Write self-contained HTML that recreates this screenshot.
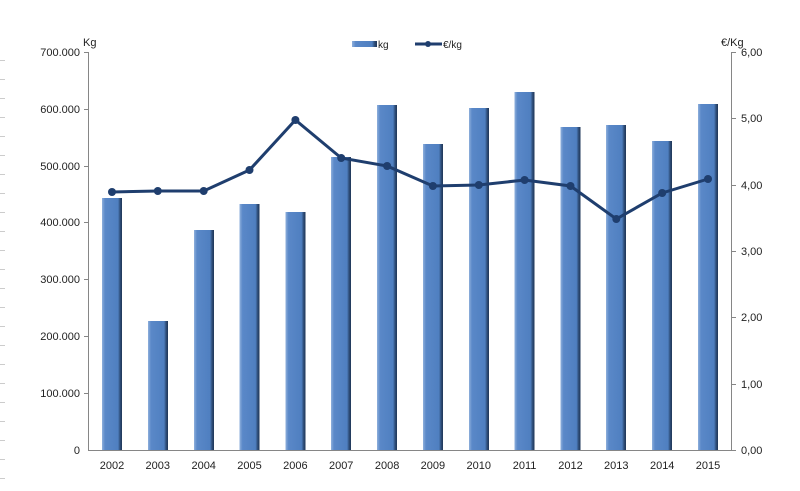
<!DOCTYPE html>
<html><head><meta charset="utf-8"><style>
body{margin:0;background:#fff;}
svg{display:block;font-family:"Liberation Sans",Arial,sans-serif;}
</style></head><body>
<svg width="800" height="491" viewBox="0 0 800 491">
<defs>
<linearGradient id="g" x1="0" x2="1" y1="0" y2="0">
<stop offset="0" stop-color="#8fb0dc"/><stop offset="0.15" stop-color="#5a88c8"/><stop offset="0.8" stop-color="#4f7fc0"/><stop offset="0.9" stop-color="#2f4f7a"/><stop offset="1" stop-color="#1f3556"/>
</linearGradient>
</defs>
<g stroke="#ccc" stroke-width="1">
<line x1="0" y1="60.5" x2="5" y2="60.5"/><line x1="0" y1="79.5" x2="5" y2="79.5"/><line x1="0" y1="98.5" x2="5" y2="98.5"/><line x1="0" y1="117.5" x2="5" y2="117.5"/><line x1="0" y1="136.5" x2="5" y2="136.5"/><line x1="0" y1="155.5" x2="5" y2="155.5"/><line x1="0" y1="174.5" x2="5" y2="174.5"/><line x1="0" y1="193.5" x2="5" y2="193.5"/><line x1="0" y1="212.5" x2="5" y2="212.5"/><line x1="0" y1="231.5" x2="5" y2="231.5"/><line x1="0" y1="250.5" x2="5" y2="250.5"/><line x1="0" y1="269.5" x2="5" y2="269.5"/><line x1="0" y1="288.5" x2="5" y2="288.5"/><line x1="0" y1="307.5" x2="5" y2="307.5"/><line x1="0" y1="326.5" x2="5" y2="326.5"/><line x1="0" y1="345.5" x2="5" y2="345.5"/><line x1="0" y1="364.5" x2="5" y2="364.5"/><line x1="0" y1="383.5" x2="5" y2="383.5"/><line x1="0" y1="402.5" x2="5" y2="402.5"/><line x1="0" y1="421.5" x2="5" y2="421.5"/><line x1="0" y1="440.5" x2="5" y2="440.5"/><line x1="0" y1="459.5" x2="5" y2="459.5"/><line x1="0" y1="478.5" x2="5" y2="478.5"/>
</g>
<g fill="url(#g)">
<rect x="102" y="198" width="20" height="252"/>
<rect x="148" y="321" width="20" height="129"/>
<rect x="194" y="230" width="20" height="220"/>
<rect x="239.5" y="204" width="20" height="246"/>
<rect x="285.5" y="212" width="20" height="238"/>
<rect x="331" y="157" width="20" height="293"/>
<rect x="377" y="105" width="20" height="345"/>
<rect x="423" y="144" width="20" height="306"/>
<rect x="469" y="108" width="20" height="342"/>
<rect x="514.5" y="92" width="20" height="358"/>
<rect x="560.5" y="127" width="20" height="323"/>
<rect x="606" y="125" width="20" height="325"/>
<rect x="652" y="141" width="20" height="309"/>
<rect x="698" y="104" width="20" height="346"/>
</g>
<g stroke="#868686" stroke-width="1" fill="none">
<line x1="88.5" y1="52" x2="88.5" y2="450"/>
<line x1="731.5" y1="52" x2="731.5" y2="450"/>
<line x1="88" y1="450.5" x2="736" y2="450.5"/>
<line x1="84" y1="52.5" x2="88" y2="52.5"/><line x1="84" y1="109.5" x2="88" y2="109.5"/><line x1="84" y1="166.5" x2="88" y2="166.5"/><line x1="84" y1="222.5" x2="88" y2="222.5"/><line x1="84" y1="279.5" x2="88" y2="279.5"/><line x1="84" y1="336.5" x2="88" y2="336.5"/><line x1="84" y1="393.5" x2="88" y2="393.5"/>
<line x1="731" y1="52.5" x2="736" y2="52.5"/><line x1="731" y1="118.5" x2="736" y2="118.5"/><line x1="731" y1="185.5" x2="736" y2="185.5"/><line x1="731" y1="251.5" x2="736" y2="251.5"/><line x1="731" y1="317.5" x2="736" y2="317.5"/><line x1="731" y1="384.5" x2="736" y2="384.5"/>
</g>
<polyline fill="none" stroke="#1f3e6e" stroke-width="3" points="112,192 157.8,191 203.7,191 249.5,170 295.4,120 341.2,158 387.1,166 432.9,186 478.8,185 524.6,180 570.5,186 616.3,219 662.2,193 708,179"/>
<g fill="#1f3e6e">
<circle cx="112" cy="192" r="4"/><circle cx="157.8" cy="191" r="4"/><circle cx="203.7" cy="191" r="4"/><circle cx="249.5" cy="170" r="4"/><circle cx="295.4" cy="120" r="4"/><circle cx="341.2" cy="158" r="4"/><circle cx="387.1" cy="166" r="4"/><circle cx="432.9" cy="186" r="4"/><circle cx="478.8" cy="185" r="4"/><circle cx="524.6" cy="180" r="4"/><circle cx="570.5" cy="186" r="4"/><circle cx="616.3" cy="219" r="4"/><circle cx="662.2" cy="193" r="4"/><circle cx="708" cy="179" r="4"/>
</g>
<g font-size="11" fill="#222" text-anchor="end">
<text x="80" y="56">700.000</text><text x="80" y="113">600.000</text><text x="80" y="170">500.000</text><text x="80" y="226">400.000</text><text x="80" y="283">300.000</text><text x="80" y="340">200.000</text><text x="80" y="397">100.000</text><text x="80" y="454">0</text>
</g>
<g font-size="11" fill="#222">
<text x="741" y="56">6,00</text><text x="741" y="122">5,00</text><text x="741" y="189">4,00</text><text x="741" y="255">3,00</text><text x="741" y="321">2,00</text><text x="741" y="388">1,00</text><text x="741" y="454">0,00</text>
<text x="83" y="46">Kg</text><text x="721" y="46">€/Kg</text>
</g>
<g font-size="11" fill="#222" text-anchor="middle">
<text x="112" y="469">2002</text><text x="157.8" y="469">2003</text><text x="203.7" y="469">2004</text><text x="249.5" y="469">2005</text><text x="295.4" y="469">2006</text><text x="341.2" y="469">2007</text><text x="387.1" y="469">2008</text><text x="432.9" y="469">2009</text><text x="478.8" y="469">2010</text><text x="524.6" y="469">2011</text><text x="570.5" y="469">2012</text><text x="616.3" y="469">2013</text><text x="662.2" y="469">2014</text><text x="708" y="469">2015</text>
</g>
<rect x="352" y="41" width="25" height="6" fill="url(#g)"/>
<text x="378" y="48" font-size="10" fill="#222">kg</text>
<line x1="415" y1="44" x2="442" y2="44" stroke="#1f3e6e" stroke-width="3"/>
<circle cx="428" cy="44" r="3" fill="#1f3e6e"/>
<text x="443" y="48" font-size="10" fill="#222">€/kg</text>
</svg>
</body></html>
